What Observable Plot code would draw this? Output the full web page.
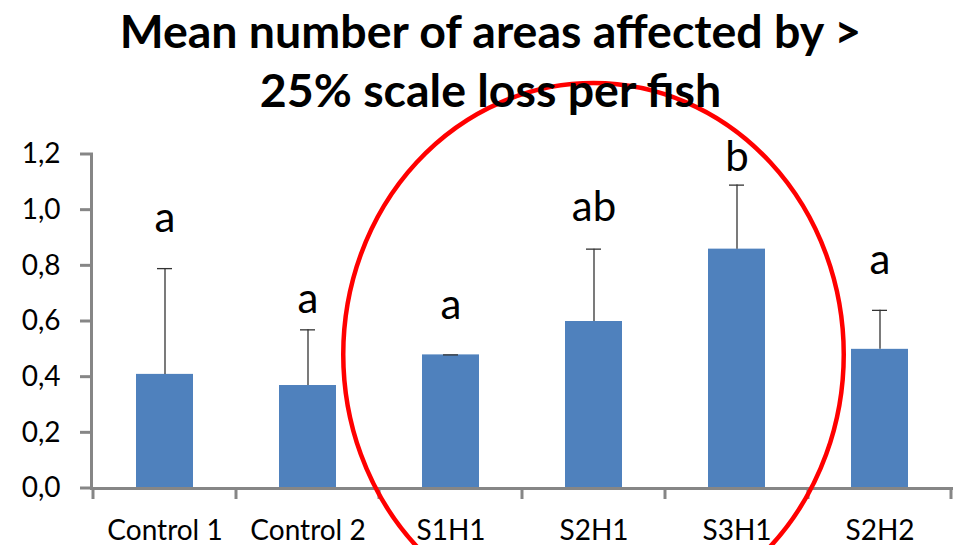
<!DOCTYPE html>
<html><head><meta charset="utf-8">
<script src="https://cdn.jsdelivr.net/npm/d3@7"></script>
<script src="https://cdn.jsdelivr.net/npm/@observablehq/plot@0.6"></script>
<style>
html,body{margin:0;padding:0;background:#fff;overflow:hidden;}
#title{height:118px;width:965px;margin:0;padding:2px 0 0 0;position:relative;left:8px;}
#title div{font-family:Lato,"Open Sans",sans-serif;font-weight:700;font-size:46.5px;line-height:56px;height:56px;text-align:center;color:#000;white-space:nowrap;margin:0;padding:0;}
#title div + div{margin-top:3px;}
#chart svg{overflow:visible;display:block;}
</style></head><body>
<div id="title"><div>Mean number of areas affected by &gt;</div><div>25% scale loss per fish</div></div>
<div id="chart"></div>
<script>
const categories = ["Control 1", "Control 2", "S1H1", "S2H1", "S3H1", "S2H2"];
const means = [0.41, 0.37, 0.48, 0.60, 0.86, 0.50];
const errors = [0.38, 0.20, 0.00, 0.26, 0.23, 0.14];
const letters = ["a", "a", "a", "ab", "b", "a"];
const letterValues = [0.92, 0.63, 0.61, 0.96, 1.14, 0.77];
const yTicks = [0, 0.2, 0.4, 0.6, 0.8, 1.0, 1.2];
// highlighted group (red ellipse) in data terms
const highlightCenter = "S2H1";
const highlightValue = 0.48;
const highlightHalfWidthBands = 1.75;
const highlightHalfHeightValue = 0.975;

const data = categories.map((c, i) => ({cat: c, mean: means[i], err: errors[i], top: means[i] + errors[i], letter: letters[i], ly: letterValues[i]}));
const axisGray = "#868686";

const plot = Plot.plot({
  width: 965, height: 425,
  marginLeft: 91, marginRight: 12, marginTop: 34, marginBottom: 57,
  style: {fontFamily: "Lato, 'Open Sans', sans-serif", fontSize: "28px", color: "#000", background: "transparent", overflow: "visible"},
  x: {domain: categories, paddingInner: 0.6, paddingOuter: 0.3, label: null},
  y: {domain: [0, 1.2], label: null},
  marks: [
    Plot.barY(data, {x: "cat", y: "mean", fill: "#4f81bd"}),
    Plot.ruleX(data, {x: "cat", y1: "mean", y2: "top", stroke: "#333", strokeWidth: 1.3}),
    Plot.tickY(data, {x: "cat", y: "top", stroke: "#333", strokeWidth: 1.3, insetLeft: 21, insetRight: 21}),
    Plot.text(data, {x: "cat", y: "ly", text: "letter", lineAnchor: "bottom", fontSize: 42, fill: "#000"}),
    Plot.axisY({ticks: yTicks, tickFormat: d => d.toFixed(1).replace(".", ","), tickSize: 0, tickPadding: 31, fill: "#000", fontSize: 28, label: null}),
    Plot.axisX({tickSize: 0, tickPadding: 32, fontSize: 28, fill: "#000", label: null}),
    Plot.ruleY([0], {stroke: axisGray, strokeWidth: 3}),
    Plot.frame({anchor: "left", stroke: axisGray, strokeWidth: 3})
  ]
});
document.getElementById("chart").appendChild(plot);

// axis ticks and the highlight ellipse, from Plot's scales
const xs = plot.scale("x"), ys = plot.scale("y");
const starts = categories.map(c => xs.apply(c));
const step = starts[1] - starts[0];
const bw = xs.bandwidth;
const bounds = starts.map(s => s - (step - bw) / 2).concat([starts[starts.length - 1] + bw + (step - bw) / 2]);
const y0 = ys.apply(0);
const x0 = bounds[0];
const svg = d3.select(plot);
svg.append("g").selectAll("line").data(bounds).join("line")
  .attr("x1", d => d).attr("x2", d => d).attr("y1", y0).attr("y2", y0 + 11)
  .attr("stroke", axisGray).attr("stroke-width", 3);
svg.append("g").selectAll("line").data(yTicks).join("line")
  .attr("x1", x0 - 13).attr("x2", x0).attr("y1", d => ys.apply(d)).attr("y2", d => ys.apply(d))
  .attr("stroke", axisGray).attr("stroke-width", 3);
svg.append("ellipse")
  .attr("cx", xs.apply(highlightCenter) + bw / 2)
  .attr("cy", ys.apply(highlightValue))
  .attr("rx", highlightHalfWidthBands * step)
  .attr("ry", ys.apply(0) - ys.apply(highlightHalfHeightValue))
  .attr("fill", "none").attr("stroke", "#ff0000").attr("stroke-width", 4.5);
</script>
</body></html>
